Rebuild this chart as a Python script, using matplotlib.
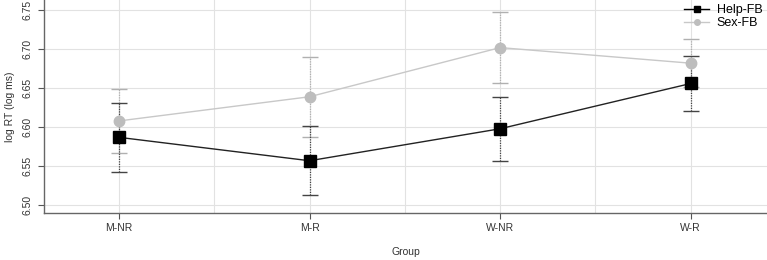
import matplotlib
matplotlib.use("Agg")
import matplotlib.pyplot as plt

plt.rcParams["font.family"] = ["Liberation Sans", "DejaVu Sans"]

groups = ["M-NR", "M-R", "W-NR", "W-R"]
help_fb = [6.587, 6.557, 6.598, 6.656]
help_err = [0.044, 0.044, 0.041, 0.035]
sex_fb = [6.608, 6.639, 6.702, 6.682]
sex_err = [0.041, 0.051, 0.045, 0.031]

x = list(range(1, len(groups) + 1))

fig = plt.figure(figsize=(7.67, 2.60), dpi=100)
ax = fig.add_axes([0.0574, 0.181, 0.9426, 0.819])

# grid at every half step, like the original
for gx in [1, 1.5, 2, 2.5, 3, 3.5, 4]:
    ax.axvline(gx, color="#e2e2e2", lw=0.8, zorder=0)
for gy in [6.50, 6.55, 6.60, 6.65, 6.70, 6.75]:
    ax.axhline(gy, color="#e2e2e2", lw=0.8, zorder=0)

# error bars
eb = ax.errorbar(x, sex_fb, yerr=sex_err, fmt="none", ecolor="#b0b0b0",
                 elinewidth=0.9, capsize=6, capthick=1.0, zorder=2)
eb[2][0].set_linestyle((0, (1, 1)))
eb = ax.errorbar(x, help_fb, yerr=help_err, fmt="none", ecolor="#444444",
                 elinewidth=0.9, capsize=6, capthick=1.0, zorder=3)
eb[2][0].set_linestyle((0, (1, 1)))

ax.plot(x, sex_fb, color="#c8c8c8", lw=1.0, zorder=4)
ax.plot(x, sex_fb, "o", color="#bdbdbd", ms=7.5, zorder=5)
ax.plot(x, help_fb, color="#222222", lw=1.0, zorder=6)
ax.plot(x, help_fb, "s", color="black", ms=8.5, zorder=7)

# legend entries
ax.plot([], [], color="black", lw=1.0, marker="s", ms=4, label="Help-FB")
ax.plot([], [], color="#c8c8c8", lw=1.0, marker="o", ms=4,
        markerfacecolor="#bdbdbd", markeredgecolor="#bdbdbd", label="Sex-FB")
handles, labels = ax.get_legend_handles_labels()
ax.legend(handles[-2:], labels[-2:], loc="upper right", frameon=False,
          fontsize=9, handlelength=2.0, borderaxespad=0.15, labelspacing=0.05,
          borderpad=0.2, handletextpad=0.6)

ax.set_xlim(0.607, 4.4)
ax.set_ylim(6.4901, 6.763)
ax.set_xticks(x)
ax.set_xticklabels(groups, fontsize=7.5, color="#333333")
ax.set_yticks([6.50, 6.55, 6.60, 6.65, 6.70, 6.75])
ax.set_yticklabels(["6.50", "6.55", "6.60", "6.65", "6.70", "6.75"],
                   rotation=90, va="center", fontsize=7.5, color="#333333")
ax.tick_params(axis="both", color="#555555", length=4, width=0.8)
ax.tick_params(axis="x", pad=3)
ax.tick_params(axis="y", pad=4)
ax.set_xlabel("Group", fontsize=7.5, color="#333333", labelpad=10)
ax.set_ylabel("log RT (log ms)", fontsize=7.5, color="#333333", labelpad=6)

for s in ["top", "right"]:
    ax.spines[s].set_visible(False)
for s in ["left", "bottom"]:
    ax.spines[s].set_color("#666666")
    ax.spines[s].set_linewidth(1.0)

fig.savefig("out.png", dpi=100)
